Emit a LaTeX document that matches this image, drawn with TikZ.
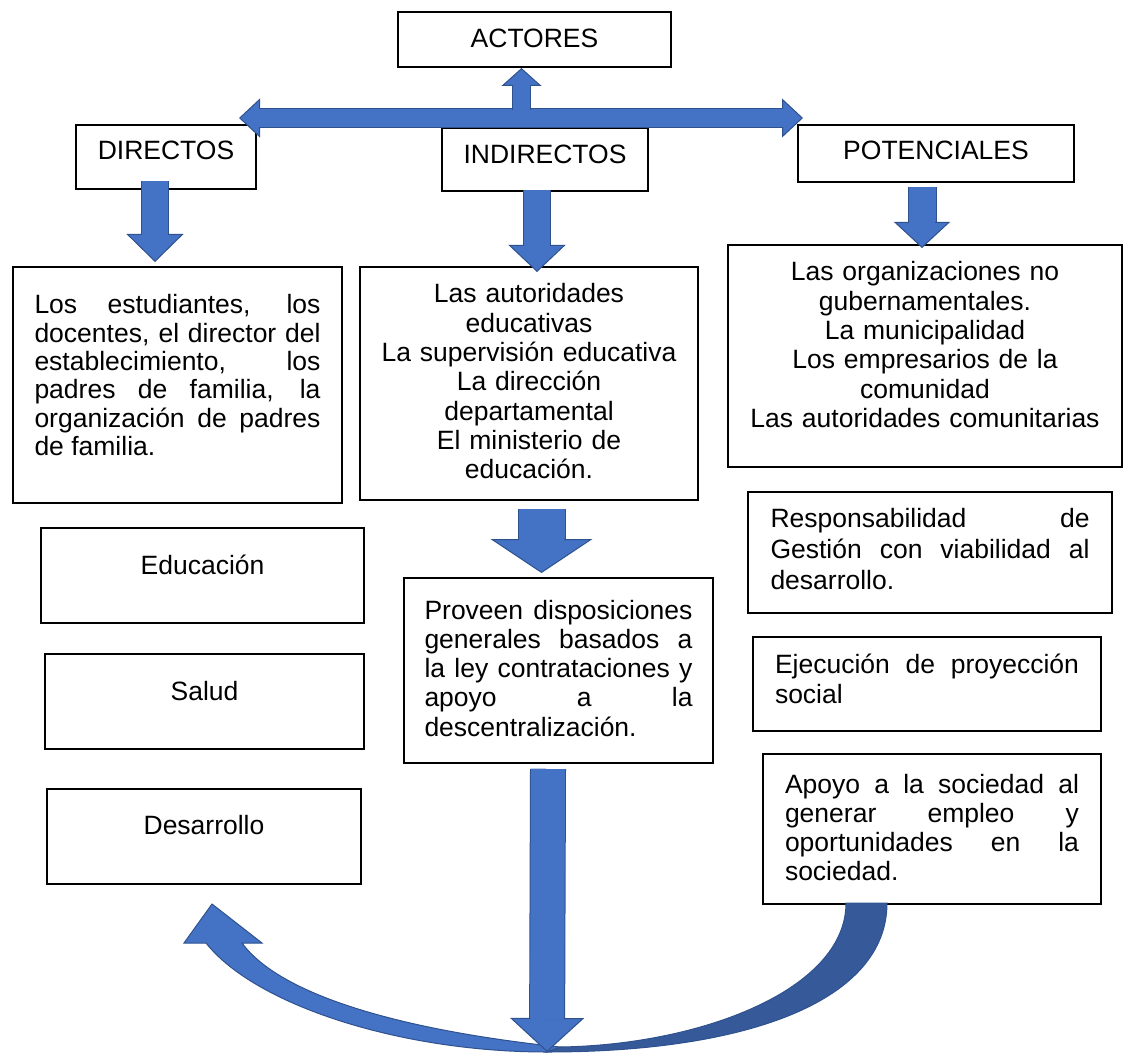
\documentclass[tikz,border=0pt]{standalone}
\usepackage{fontspec}
\setmainfont{Liberation Sans}
\usetikzlibrary{arrows.meta,calc}
\definecolor{arrowfill}{HTML}{4472C4}
\definecolor{arrowline}{HTML}{2F528F}
\definecolor{arrowback}{HTML}{36599A}
\hyphenpenalty=10000
\hbadness=10000
\tikzstyle{box}=[draw, line width=1pt, fill=white, inner ysep=0pt, inner xsep=0pt, anchor=north west, font=\fontsize{13.25}{14.65}\selectfont]
\tikzset{
    tip/.style n args={2}{-{Triangle[length=#1, width=#2, fill=arrowfill, color=arrowline, line width=0.5pt]}},
    blk/.style n args={4}{draw=arrowline, line width=0.5pt, double=arrowfill, double distance=#1, tip={#2}{#3},
        postaction={-, draw=arrowfill, line width=#1-0.4pt, shorten >=#2-0.8pt, shorten <=#4}},
}
\begin{document}
\begin{tikzpicture}[x=0.5pt,y=-0.5pt]
    \useasboundingbox (0,0) rectangle (1123,1053);
    % titulo y tipos de actores
    \node [box, minimum width=136.5pt, text height=18pt, text depth=9.5pt] (actores) at (397,11) {ACTORES};
    \node [box, minimum width=90pt, text height=17.5pt, text depth=14.5pt] (directos) at (75,124) {DIRECTOS};
    \node [box, minimum width=103pt, text height=18pt, text depth=13.5pt] (indirectos) at (441,127) {INDIRECTOS};
    \node [box, minimum width=138pt, text height=17.5pt, text depth=11pt] (potenciales) at (797,124) {POTENCIALES};
    % listas
    \node [box, text width=143pt, inner xsep=10.75pt, align=justify, text height=23.5pt, text depth=94.5pt,
        font=\fontsize{13.25}{14.15}\selectfont] (dirlist) at (12,266)
        {Los estudiantes, los\linebreak docentes, el director del\linebreak establecimiento, los\linebreak padres de familia, la\linebreak organización de padres\linebreak de familia.};
    \node [box, text width=155.5pt, inner xsep=6.75pt, align=center, text height=18pt, text depth=98.5pt] (indlist) at (359,266)
        {Las autoridades\\ educativas\\ La supervisión educativa\\ La dirección\\ departamental\\ El ministerio de\\ educación.};
    \node [box, text width=185pt, inner xsep=6pt, align=center, text height=18pt, text depth=93pt] (potlist) at (727,244)
        {Las organizaciones no\\ gubernamentales.\\ La municipalidad\\ Los empresarios de la\\ comunidad\\ Las autoridades comunitarias};
    % ambitos
    \node [box, minimum width=161.5pt, text height=23pt, text depth=24.5pt] (educ) at (40,527) {Educación};
    \node [box, minimum width=159.5pt, text height=23pt, text depth=24.5pt] (salud) at (44,653) {Salud};
    \node [box, minimum width=157pt, text height=22.5pt, text depth=25pt] (desarrollo) at (46,788) {Desarrollo};
    \node [box, text width=134pt, inner xsep=10.25pt, align=justify, text height=20.5pt, text depth=72pt] (proveen) at (403,577)
        {Proveen disposiciones\linebreak generales basados a\linebreak la ley contrataciones y\linebreak apoyo a la\linebreak descentralización.};
    \node [box, text width=159.5pt, inner xsep=11.25pt, align=justify, text height=17.5pt, text depth=43pt,
        font=\fontsize{13.25}{15.6}\selectfont] (resp) at (747,491)
        {Responsabilidad de\linebreak Gestión con viabilidad al\linebreak desarrollo.};
    \node [box, text width=152pt, inner xsep=11pt, align=justify, text height=18pt, text depth=29pt,
        font=\fontsize{13.25}{15}\selectfont] (ejec) at (752,636)
        {Ejecución de proyección\linebreak social};
    \node [box, text width=147pt, inner xsep=11pt, align=justify, text height=19.5pt, text depth=55.5pt] (apoyo) at (762,753)
        {Apoyo a la sociedad al\linebreak generar empleo y\linebreak oportunidades en la\linebreak sociedad.};
    \coordinate (barL) at (239,118);
    \coordinate (barR) at (803,118);
    \coordinate (barM) at (521.5,110);
    \coordinate (bottom) at (547,1052);
    % flecha curva
    \fill [arrowback, draw=arrowline, line width=0.5pt] (887,903) .. controls (887,1000) and (750,1052) .. (547,1052)
        -- (560,1047) .. controls (700,1045) and (846,990) .. (846,903) -- cycle;
    \fill [arrowfill, draw=arrowline, line width=0.5pt] (547,1052) .. controls (400,1052) and (255,1005) .. (206,943)
        -- (184,943) -- (212,904) -- (262,943) -- (242,943)
        .. controls (280,995) and (400,1030) .. (560,1047) -- cycle;
    % flechas
    \draw [blk={9pt}{10.5pt}{19.5pt}{10pt}, {Triangle[length=10.5pt, width=19.5pt, fill=arrowfill, color=arrowline, line width=0.5pt]}-{Triangle[length=10.5pt, width=19.5pt, fill=arrowfill, color=arrowline, line width=0.5pt]}] (barL) -- (barR);
    \draw [blk={8.5pt}{9pt}{20pt}{0pt}] (barM) -- (barM |- actores.south);
    \draw [blk={13pt}{14pt}{28.5pt}{0pt}] ($(directos.south)+(-11,-9)$) -- ($(directos.south |- dirlist.north)+(-11,-4)$);
    \draw [blk={13pt}{13.5pt}{28.5pt}{0pt}] ($(indirectos.south)+(-8,-2)$) -- ($(indirectos.south |- indlist.north)+(-8,6)$);
    \draw [blk={13.5pt}{13pt}{28pt}{0pt}] ($(potenciales.south)+(-14,4)$) -- ($(potenciales.south |- potlist.north)+(-14,4)$);
    \draw [blk={23pt}{17pt}{51pt}{0pt}] ($(indlist.south)+(12.5,8)$) -- ($(indlist.south |- proveen.north)+(12.5,-4)$);
    \draw [blk={17pt}{17pt}{37pt}{0pt}] ($(proveen.south)+(-10.5,5)$) -- (bottom);
\end{tikzpicture}
\end{document}
